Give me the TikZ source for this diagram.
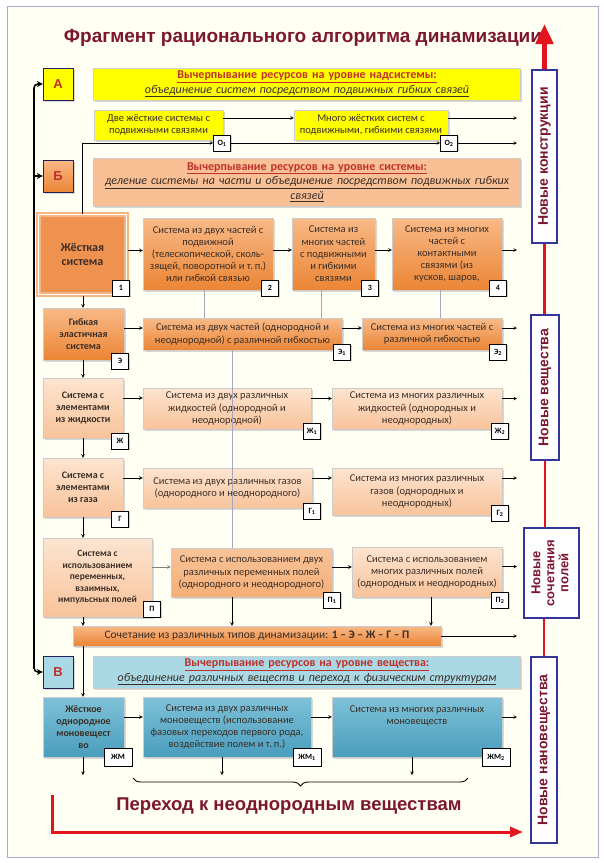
\documentclass[tikz,border=0pt]{standalone}
\usepackage{fontspec}
\setmainfont{Carlito}
\newfontfamily\arialfont{Liberation Sans}
\usepackage{xcolor}
\usepackage{graphicx}
\usepackage{tikz}
\usetikzlibrary{arrows,arrows.meta,shadows,decorations.pathreplacing}
\definecolor{paper}{HTML}{FFFFF3}
\definecolor{rimblue}{HTML}{A9A9D4}
\definecolor{wine}{HTML}{7D1631}
\definecolor{hdred}{HTML}{C0302A}
\definecolor{ink}{HTML}{3B2E26}
\definecolor{navy}{HTML}{34349A}
\definecolor{alarm}{HTML}{E3141E}
\definecolor{yel}{HTML}{FFFF00}
\definecolor{orhi}{HTML}{F8B987}
\definecolor{orlo}{HTML}{EB8535}
\definecolor{orsolid}{HTML}{EF9250}
\definecolor{orrim}{HTML}{F6B583}
\definecolor{peachhi}{HTML}{FDE4D0}
\definecolor{peachlo}{HTML}{F8C39A}
\definecolor{salmon}{HTML}{F9BF95}
\definecolor{skyhd}{HTML}{AAD9E5}
\definecolor{tealhi}{HTML}{7EC2D8}
\definecolor{teallo}{HTML}{4A9DBD}
\definecolor{guidec}{HTML}{A5A5BC}
\newcommand\hdtop[1]{\textcolor{hdred}{\bfseries\underline{#1}}}
\newcommand\hdsub[1]{{\itshape\underline{#1}}}
\tikzset{
  every node/.style={font=\fontsize{10.5}{12.2}\selectfont,text=ink},
  box/.style={draw=gray!40,align=center,inner sep=2pt,
              drop shadow={opacity=.3,shadow xshift=1.5pt,shadow yshift=-1.5pt}},
  hot/.style={box,top color=orhi,bottom color=orlo},
  pale/.style={box,top color=peachhi,bottom color=peachlo},
  cool/.style={box,top color=tealhi,bottom color=teallo},
  yelbox/.style={box,fill=yel},
  lead/.style={font=\bfseries\fontsize{10}{12}\selectfont},
  hdr/.style={box,minimum width=427,text width=422,font=\fontsize{12}{14.5}\selectfont},
  letter/.style={box,draw=navy!60!black,minimum width=30,minimum height=32,
                 font=\arialfont\bfseries\fontsize{13}{15}\selectfont,text=hdred},
  tag/.style={draw=black,fill=white,semithick,minimum width=17,minimum height=16,inner sep=1pt,
              font=\bfseries\fontsize{8}{9}\selectfont,text=black,
              drop shadow={opacity=.35,shadow xshift=1.2pt,shadow yshift=-1.2pt}},
  side/.style={draw=navy,line width=1.4pt,fill=white,inner sep=0pt,
               font=\arialfont\bfseries\fontsize{14}{15.5}\selectfont,text=wine},
  ar/.style={->,>=stealth,draw=black,line width=.6pt},
  grayar/.style={ar,draw=gray},
  guide/.style={draw=guidec,line width=.5pt},
  spine/.style={>=stealth,draw=black,line width=1.6pt,rounded corners=4pt},
  redline/.style={draw=alarm,line width=2.5pt},
}

\begin{document}
\begin{tikzpicture}[x=1pt,y=-1pt]
\useasboundingbox (0,0) rectangle (604,863);
\draw[rimblue,fill=paper] (7,6) rectangle (598,857);
\node[font=\arialfont\bfseries\fontsize{19}{22}\selectfont,text=wine] (title) at (303,38)
 {Фрагмент рационального алгоритма динамизации};

\coordinate (spb) at (34,176);
\coordinate (spv) at (34,672);
\coordinate (vl) at (83,0);
\coordinate (va) at (204,0);
\coordinate (vb) at (321,0);
\coordinate (vc) at (440,0);
\coordinate (vx) at (232,0);
\coordinate (vq) at (431,0);
\coordinate (vend) at (517,0);
\coordinate (dm0) at (83,775);
\coordinate (dm1) at (222,775);
\coordinate (dm2) at (412,775);
\coordinate (brl) at (133,778);
\coordinate (brr) at (468,778);
\coordinate (rtop) at (544.5,24);
\coordinate (rfoot) at (52,795);
\coordinate (rend) at (523,832);

\node[letter,fill=yel] (la) at (58,84) {А};
\node[letter,top color=orhi,bottom color=orlo] (lb) at (58,176) {Б};
\node[letter,fill=skyhd] (lv) at (58,672) {В};

\node[hdr,fill=yel,minimum height=32] (ha) at (307,84)
 {\hdtop{Вычерпывание ресурсов на уровне надсистемы:}\\
  \hdsub{объединение систем посредством подвижных гибких связей}};
\node[hdr,fill=salmon,minimum height=48] (hb) at (307,182)
 {\hdtop{Вычерпывание ресурсов на уровне системы:}\\
  \hdsub{деление системы на части и объединение посредством подвижных гибких}\\
  \hdsub{связей}};
\node[hdr,fill=skyhd,minimum height=32] (hv) at (307,672)
 {\hdtop{Вычерпывание ресурсов на уровне вещества:}\\
  \hdsub{объединение различных веществ и переход к физическим структурам}};

\node[yelbox,minimum width=129,minimum height=30] (o1) at (158.5,125)
 {Две жёсткие системы с\\подвижными связями};
\node[tag] (o1t) at (222,143) {О\textsubscript{1}};
\node[yelbox,minimum width=154,minimum height=30] (o2) at (371,125)
 {Много жёстких систем с\\подвижными, гибкими связями};
\node[tag] (o2t) at (449,143) {О\textsubscript{2}};

\node[box,fill=orsolid,draw=orrim,double=white,double distance=.8pt,line width=2pt,
      minimum width=88,minimum height=80,font=\bfseries\fontsize{12}{14.5}\selectfont]
 (hard) at (82.5,254.5) {Жёсткая\\система};
\node[tag] (t1) at (121,288) {1};
\node[hot,minimum width=130,minimum height=72] (b2) at (208,254)
 {Система из двух частей с\\подвижной\\(телескопической, сколь-\\зящей, поворотной и т.\,п.)\\или гибкой связью};
\node[tag] (t2) at (270,288) {2};
\node[hot,minimum width=83,minimum height=72] (b3) at (333.5,254)
 {Система из\\многих частей\\с подвижными\\и гибкими\\связями};
\node[tag] (t3) at (370,288) {3};
\node[hot,minimum width=110,minimum height=72] (b4) at (447,254)
 {Система из многих\\частей с\\контактными\\связями (из\\кусков, шаров,};
\node[tag] (t4) at (498,288) {4};

\node[hot,lead,minimum width=81,minimum height=52] (flex) at (83.5,334)
 {Гибкая\\эластичная\\система};
\node[tag] (te) at (120,361) {Э};
\node[hot,minimum width=199,minimum height=32] (e1) at (242.5,334)
 {Система из двух частей (однородной и\\неоднородной) с различной гибкостью};
\node[tag] (te1) at (342,352) {Э\textsubscript{1}};
\node[hot,minimum width=140,minimum height=32] (e2) at (432,334)
 {Система из многих частей с\\различной гибкостью};
\node[tag] (te2) at (498,352) {Э\textsubscript{2}};

\node[pale,lead,minimum width=80,minimum height=60] (liq) at (83,408)
 {Система с\\элементами\\из жидкости};
\node[tag] (tz) at (120,441) {Ж};
\node[pale,minimum width=168,minimum height=41] (z1) at (227,408.5)
 {Система из двух различных\\жидкостей (однородной и\\неоднородной)};
\node[tag] (tz1) at (312,431) {Ж\textsubscript{1}};
\node[pale,minimum width=170,minimum height=41] (z2) at (417,408.5)
 {Система из многих различных\\жидкостей (однородных и\\неоднородных)};
\node[tag] (tz2) at (500,431) {Ж\textsubscript{2}};

\node[pale,lead,minimum width=80,minimum height=59] (gas) at (83,487.5)
 {Система с\\элементами\\из газа};
\node[tag] (tg) at (120,519) {Г};
\node[pale,minimum width=169,minimum height=40] (g1) at (227.5,488)
 {Система из двух различных газов\\(однородного и неоднородного)};
\node[tag] (tg1) at (312,511) {Г\textsubscript{1}};
\node[pale,minimum width=170,minimum height=47] (g2) at (417,491.5)
 {Система из многих различных\\газов (однородных и\\неоднородных)};
\node[tag] (tg2) at (500,513) {Г\textsubscript{2}};

\node[pale,font=\bfseries\fontsize{9.5}{11.5}\selectfont,minimum width=109,minimum height=79] (fld) at (97.5,577.5)
 {Система с\\использованием\\переменных,\\взаимных,\\импульсных полей};
\node[tag] (tp) at (152,609) {П};
\node[box,top color=peachlo,bottom color=orhi!80!orlo,minimum width=161,minimum height=49] (p1) at (251.5,572.5)
 {Система с использованием двух\\различных переменных полей\\(однородного и неоднородного)};
\node[tag] (tp1) at (332,600) {П\textsubscript{1}};
\node[pale,minimum width=150,minimum height=50] (p2) at (427,572)
 {Система с использованием\\многих различных полей\\(однородных и неоднородных)};
\node[tag] (tp2) at (500,600) {П\textsubscript{2}};

\node[hot,minimum width=368,minimum height=20,font=\fontsize{11.5}{13}\selectfont] (bar) at (257,636)
 {Сочетание из различных типов динамизации: \textbf{1 – Э – Ж – Г – П}};

\node[cool,lead,minimum width=81,minimum height=60] (hm) at (83.5,727)
 {Жёсткое\\однородное\\моновещест\\во};
\node[tag,minimum width=28,minimum height=18] (tm) at (118,757) {ЖМ};
\node[cool,minimum width=168,minimum height=60] (m1) at (227,727)
 {Система из двух различных\\моновеществ (использование\\фазовых переходов первого рода,\\воздействие полем и т.\,п.)};
\node[tag,minimum width=28,minimum height=18] (tm1) at (307,757) {ЖМ\textsubscript{1}};
\node[cool,minimum width=170,minimum height=60] (m2) at (417,727)
 {Система из многих различных\\моновеществ\\ \mbox{}\\ \mbox{}};
\node[tag,minimum width=28,minimum height=18] (tm2) at (496,757) {ЖМ\textsubscript{2}};

\node[side,minimum width=25,minimum height=173] (rk) at (544.5,156.5)
 {\rotatebox{90}{Новые конструкции}};
\node[side,minimum width=28,minimum height=145] (rv) at (545,387.5)
 {\rotatebox{90}{Новые вещества}};
\node[side,minimum width=55,minimum height=90,font=\arialfont\bfseries\fontsize{13}{14}\selectfont] (rs) at (551.5,573)
 {\rotatebox{90}{\begin{tabular}{@{}c@{}}Новые\\сочетания\\полей\end{tabular}}};
\node[side,minimum width=26,minimum height=186] (rn) at (544,750)
 {\rotatebox{90}{Новые нановещества}};

\draw[spine,<->] (la.west) -| (spv) -- (lv.west);
\draw[spine,->] (spb) -- (lb.west);

\draw[ar] ([yshift=7pt]o1.east) -- ([yshift=7pt]o1.east -| o2.west);
\draw[ar] ([yshift=7pt]o2.east) -- ([yshift=7pt]o2.east -| vend);
\draw[ar] (hard.north) |- (o1t.west);
\draw[ar] (o1t.east) -- (o2t.west);
\draw[ar] (o2t.east) -- (o2t.east -| vend);

\draw[ar] ([yshift=4pt]hard.east) -- ([yshift=4pt]hard.east -| b2.west);
\draw[ar] ([yshift=4pt]b2.east) -- ([yshift=4pt]b2.east -| b3.west);
\draw[ar] ([yshift=4pt]b3.east) -- ([yshift=4pt]b3.east -| b4.west);
\draw[ar] ([yshift=4pt]b4.east) -- ([yshift=4pt]b4.east -| vend);
\draw[guide] (b2.south -| va) -- (e1.north -| va);
\draw[guide] (b3.south -| vb) -- (e1.north -| vb);
\draw[guide] (b4.south -| vc) -- (e2.north -| vc);
\draw[ar] (hard.south -| vl) -- (flex.north -| vl);

\draw[ar] ([yshift=6pt]flex.east) -- ([yshift=6pt]flex.east -| e1.west);
\draw[ar] ([yshift=6pt]e1.east) -- ([yshift=6pt]e1.east -| e2.west);
\draw[ar] ([yshift=6pt]e2.east) -- ([yshift=6pt]e2.east -| vend);
\draw[ar] (flex.south -| vl) -- (liq.north -| vl);

\draw[ar] ([yshift=10pt]liq.east) -- ([yshift=10pt]liq.east -| z1.west);
\draw[ar] ([yshift=10pt]z1.east) -- ([yshift=10pt]z1.east -| z2.west);
\draw[ar] ([yshift=10pt]z2.east) -- ([yshift=10pt]z2.east -| vend);
\draw[ar] (liq.south -| vl) -- (gas.north -| vl);

\draw[ar] ([yshift=9.5pt]gas.east) -- ([yshift=9.5pt]gas.east -| g1.west);
\draw[ar] ([yshift=9.5pt]gas.east -| g1.east) -- ([yshift=9.5pt]gas.east -| g2.west);
\draw[ar] ([yshift=9.5pt]gas.east -| g2.east) -- ([yshift=9.5pt]gas.east -| vend);
\draw[ar] (gas.south -| vl) -- (fld.north -| vl);

\draw[guide] (e1.south -| vx) -- (p1.north -| vx);
\draw[grayar] ([yshift=10.5pt]fld.east) -- ([yshift=10.5pt]fld.east -| p1.west);
\draw[ar] ([yshift=5.5pt]p1.east) -- ([yshift=5.5pt]p1.east -| p2.west);
\draw[ar] ([yshift=5.5pt]p2.east) -- ([yshift=5.5pt]p2.east -| vend);

\draw[ar] (fld.south -| vl) -- (bar.north -| vl);
\draw[ar] (p1.south -| vx) -- (bar.north -| vx);
\draw[ar] (p2.south -| vq) -- (bar.north -| vq);
\draw[ar] (bar.east) -- (bar.east -| vend);
\draw[ar] (bar.south -| vl) -- (hm.north -| vl);

\draw[ar] ([yshift=10pt]hm.east) -- ([yshift=10pt]hm.east -| m1.west);
\draw[ar] ([yshift=10pt]m1.east) -- ([yshift=10pt]m1.east -| m2.west);
\draw[ar] ([yshift=10pt]m2.east) -- ([yshift=10pt]m2.east -| vend);
\draw[ar] (hm.south -| dm0) -- (dm0);
\draw[ar] (m1.south -| dm1) -- (dm1);
\draw[ar] (m2.south -| dm2) -- (dm2);

\draw[line width=.9pt,decorate,decoration={brace,mirror,amplitude=8pt}] (brl) -- (brr);
\node[font=\arialfont\bfseries\fontsize{18.5}{21}\selectfont,text=wine] (shift) at (289,806)
 {Переход к неоднородным веществам};
\draw[draw=alarm,line width=3pt,-{Triangle[length=13pt,width=10pt]}] (rfoot) |- (rend);

\draw[redline] (rk.south) -- (rk.south |- rv.north);
\draw[redline] (rv.south) -- (rv.south |- rs.north);
\draw[redline] (rn.north |- rs.south) -- (rn.north);
\draw[draw=alarm,line width=5pt,-{Triangle[length=20pt,width=17pt]}] (rk.north) -- (rtop);
\end{tikzpicture}
\end{document}
